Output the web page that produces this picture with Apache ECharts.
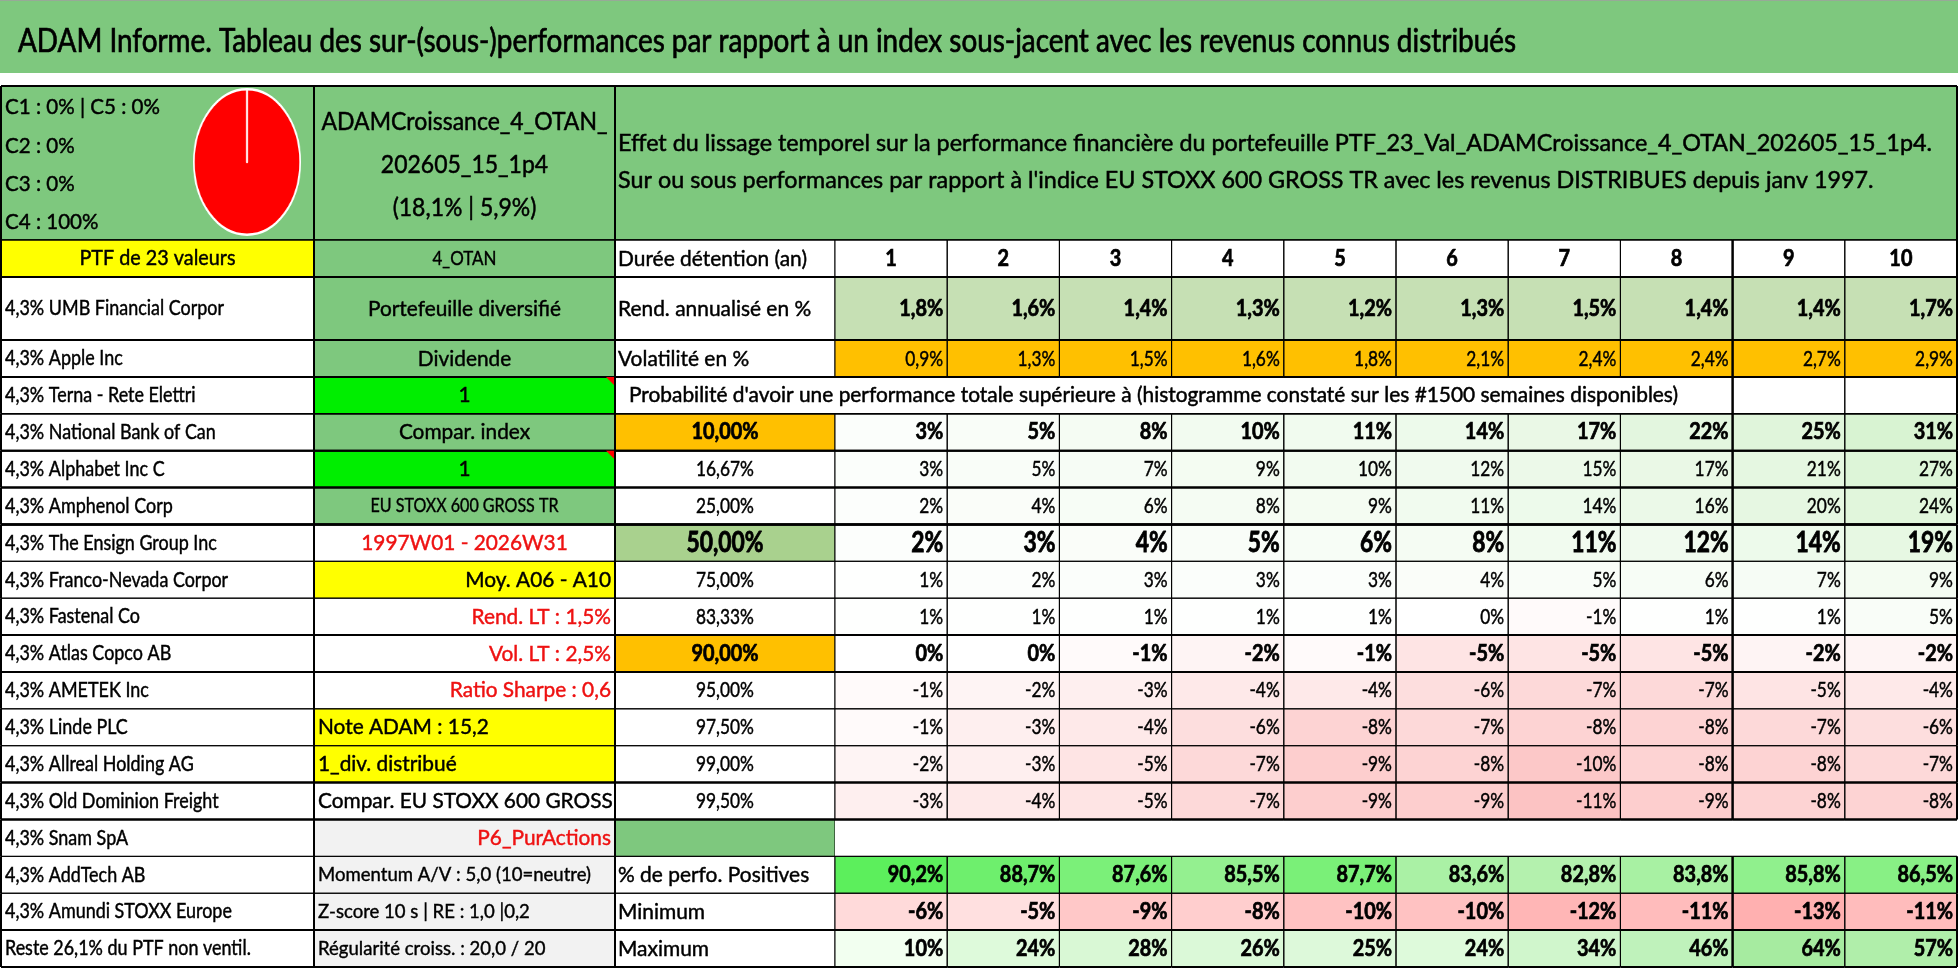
<!DOCTYPE html>
<html><head><meta charset="utf-8">
<script src="https://cdn.jsdelivr.net/npm/echarts/dist/echarts.min.js"></script>
<style>
html,body{margin:0;padding:0;background:#fff;overflow:hidden;}
#main{position:absolute;left:0;top:0;width:1958px;height:979px;}
#pie{position:absolute;left:172px;top:87px;width:150px;height:150px;transform:scaleX(0.73);transform-origin:50% 50%;}
</style>
</head><body>
<div id="main"></div><div id="pie"></div>
<script>
// ---------------- DATA ----------------
const title = 'ADAM Informe. Tableau des sur-(sous-)performances par rapport à un index sous-jacent avec les revenus connus distribués';
const headerLines = [
  'Effet du lissage temporel sur la performance financière du portefeuille PTF_23_Val_ADAMCroissance_4_OTAN_202605_15_1p4.',
  "Sur ou sous performances par rapport à l'indice EU STOXX 600 GROSS TR avec les revenus DISTRIBUES depuis janv 1997."
];
const portfolioLines = ['ADAMCroissance_4_OTAN_', '202605_15_1p4', '(18,1% | 5,9%)'];
const classNames = ['C1', 'C2', 'C3', 'C4', 'C5'];
const classShares = [0, 0, 0, 100, 0];
const holdingsHeader = 'PTF de 23 valeurs';
const holdings = [
  '4,3% UMB Financial Corpor', '4,3% Apple Inc', '4,3% Terna - Rete Elettri', '4,3% National Bank of Can',
  '4,3% Alphabet Inc C', '4,3% Amphenol Corp', '4,3% The Ensign Group Inc', '4,3% Franco-Nevada Corpor',
  '4,3% Fastenal Co', '4,3% Atlas Copco AB', '4,3% AMETEK Inc', '4,3% Linde PLC', '4,3% Allreal Holding AG',
  '4,3% Old Dominion Freight', '4,3% Snam SpA', '4,3% AddTech AB', '4,3% Amundi STOXX Europe',
  'Reste 26,1% du PTF non ventil.'
];
const profileHeader = '4_OTAN';
const profileInfo = [
  'Portefeuille diversifié', 'Dividende', '1', 'Compar. index', '1', 'EU STOXX 600 GROSS TR',
  '1997W01 - 2026W31', 'Moy. A06 - A10', 'Rend. LT : 1,5%', 'Vol. LT : 2,5%', 'Ratio Sharpe : 0,6',
  'Note ADAM : 15,2', '1_div. distribué', 'Compar. EU STOXX 600 GROSS TR', 'P6_PurActions',
  'Momentum A/V : 5,0 (10=neutre)', 'Z-score 10 s | RE : 1,0 |0,2', 'Régularité croiss. : 20,0 / 20'
];
const rowLabels = ['Durée détention (an)', 'Rend. annualisé en %', 'Volatilité en %'];
const probTitle = "Probabilité d'avoir une performance totale supérieure à (histogramme constaté sur les #1500 semaines disponibles)";
const percentiles = ['10,00%', '16,67%', '25,00%', '50,00%', '75,00%', '83,33%', '90,00%', '95,00%', '97,50%', '99,00%', '99,50%'];
const statLabels = ['% de perfo. Positives', 'Minimum', 'Maximum'];
const years = ['1', '2', '3', '4', '5', '6', '7', '8', '9', '10'];
const rendement = [1.8, 1.6, 1.4, 1.3, 1.2, 1.3, 1.5, 1.4, 1.4, 1.7];
const volatilite = [0.9, 1.3, 1.5, 1.6, 1.8, 2.1, 2.4, 2.4, 2.7, 2.9];
const probRows = [
  [3, 5, 8, 10, 11, 14, 17, 22, 25, 31],
  [3, 5, 7, 9, 10, 12, 15, 17, 21, 27],
  [2, 4, 6, 8, 9, 11, 14, 16, 20, 24],
  [2, 3, 4, 5, 6, 8, 11, 12, 14, 19],
  [1, 2, 3, 3, 3, 4, 5, 6, 7, 9],
  [1, 1, 1, 1, 1, 0, -1, 1, 1, 5],
  [0, 0, -1, -2, -1, -5, -5, -5, -2, -2],
  [-1, -2, -3, -4, -4, -6, -7, -7, -5, -4],
  [-1, -3, -4, -6, -8, -7, -8, -8, -7, -6],
  [-2, -3, -5, -7, -9, -8, -10, -8, -8, -7],
  [-3, -4, -5, -7, -9, -9, -11, -9, -8, -8]
];
const positives = [90.2, 88.7, 87.6, 85.5, 87.7, 83.6, 82.8, 83.8, 85.8, 86.5];
const minimum = [-6, -5, -9, -8, -10, -10, -12, -11, -13, -11];
const maximum = [10, 24, 28, 26, 25, 24, 34, 46, 64, 57];

// ---------------- STYLE / LAYOUT ----------------
const FONT = 'Lato, "Liberation Sans", sans-serif';
const COL = { green: '#7ec87e', bright: '#00ee00', yellow: '#ffff00', orange: '#ffc000', gray: '#f2f2f2',
  rend: '#c6e0b4', mid: '#a9d18e', red: '#ee1111', white: '#ffffff' };
const XE = [1, 314, 615, 835, 1957];
const YE = { titleTop: 0, titleBottom: 73, headTop: 86, r0: 240, r1: 277, r2: 340, bottom: 967 };
const hW = [1.5, 2, 2, 2, 1.5, 2, 2, 2.5, 1, 1, 2, 2, 1, 1, 2, 2, 1, 1, 2, 2];

// text classes: font size + horizontal compression calibrated to widths seen in the reference
const mctx = document.createElement('canvas').getContext('2d');
const fontOf = (size, bold) => (bold ? 'bold ' : '') + size + 'px ' + FONT;
function measure(text, font) { mctx.font = font; return mctx.measureText(text).width; }
const TC = {
  title: { size: 32, ref: title, w: 1498, stroke: 0.7 },
  head: { size: 24, ref: headerLines[0], w: 1314, stroke: 0.5 },
  prob: { size: 22, ref: probTitle, w: 1049, stroke: 0.5 },
  hold: { size: 21, ref: holdings[0], w: 219, stroke: 0.45 },
  ptf: { size: 21, ref: holdingsHeader, w: 156, stroke: 0.45 },
  cls: { size: 21, ref: 'C1 : 0% | C5 : 0%', w: 155, stroke: 0.45 },
  port: { size: 25, ref: portfolioLines[0], w: 286, stroke: 0.5 },
  otan: { size: 19, ref: profileHeader, w: 64, stroke: 0.4 },
  side: { size: 22, ref: profileInfo[0], w: 193, stroke: 0.45 },
  sideEU: { size: 19, ref: profileInfo[5], w: 188, stroke: 0.4 },
  sideS: { size: 19, ref: profileInfo[15], w: 273, stroke: 0.4 },
  label: { size: 22, ref: rowLabels[0], w: 189, stroke: 0.45 },
  num: { size: 22, bold: true, ref: '1,8%', w: 44, stroke: 0.7 },
  numBig: { size: 28, bold: true, ref: '50,00%', w: 77, stroke: 0.8 },
  numReg: { size: 22, ref: '16,67%', w: 58, stroke: 0.45 }
};
Object.keys(TC).forEach(k => {
  const t = TC[k]; t.font = fontOf(t.size, t.bold);
  t.sx = Math.min(1.2, t.w / measure(t.ref, t.font));
});

const profileStyle = [
  { bg: 'green', align: 'center' }, { bg: 'green', align: 'center' },
  { bg: 'bright', align: 'center', marker: true }, { bg: 'green', align: 'center' },
  { bg: 'bright', align: 'center', marker: true }, { bg: 'green', align: 'center', cls: 'sideEU' },
  { bg: 'white', align: 'center', color: 'red' }, { bg: 'yellow', align: 'right' },
  { bg: 'white', align: 'right', color: 'red' }, { bg: 'white', align: 'right', color: 'red' },
  { bg: 'white', align: 'right', color: 'red' }, { bg: 'yellow', align: 'left' },
  { bg: 'yellow', align: 'left' }, { bg: 'white', align: 'left' },
  { bg: 'gray', align: 'right', color: 'red' }, { bg: 'gray', align: 'left', cls: 'sideS' },
  { bg: 'gray', align: 'left', cls: 'sideS' }, { bg: 'gray', align: 'left', cls: 'sideS' }
];
const probRowStyle = [
  { cls: 'num', bg: 'orange' }, { cls: 'numReg' }, { cls: 'numReg' }, { cls: 'numBig', bg: 'mid' },
  { cls: 'numReg' }, { cls: 'numReg' }, { cls: 'num', bg: 'orange' }, { cls: 'numReg' }, { cls: 'numReg' },
  { cls: 'numReg' }, { cls: 'numReg' }
];

const lerp = (t, a, b) => echarts.color.lerp(Math.max(0, Math.min(1, t)), [a, b]);
const fmt1 = v => v.toFixed(1).replace('.', ',') + '%';
const fmt0 = v => Math.round(v) + '%';
const flatProb = probRows.flat();
const pLo = Math.min(...flatProb), pHi = Math.max(...flatProb);
const probColor = v => v < 0 ? lerp(v / pLo, '#ffffff', '#fcc3c3') : lerp(v / pHi, '#ffffff', '#d8f3d2');
const rangeColor = (arr, cLo, cHi) => v => lerp((v - Math.min(...arr)) / (Math.max(...arr) - Math.min(...arr)), cLo, cHi);
const posColor = rangeColor(positives, '#b4f1ae', '#5cef5c');
const minColor = rangeColor(minimum, '#ffb0b0', '#ffe0e0');
const maxColor = rangeColor(maximum, '#f2fff0', '#a6eba0');

function nLeftW(k) { return k === 0 ? 1 : (k === 8 || k === 10) ? 2 : 1; }

// ---------------- CELLS ----------------
function cellA(r) {
  const base = { col: 0, t: hW[r], b: hW[r + 1], l: 2, r: 2, cls: 'hold' };
  if (r === 0) return [Object.assign(base, { text: holdingsHeader, bg: COL.yellow, align: 'center', cls: 'ptf' })];
  return [Object.assign(base, { text: holdings[r - 1], bg: COL.white, align: 'left', pad: 4 })];
}
function cellB(r) {
  const base = { col: 0, t: hW[r], b: hW[r + 1], l: 2, r: 2, cls: 'side' };
  if (r === 0) return [Object.assign(base, { text: profileHeader, bg: COL.green, align: 'center', cls: 'otan' })];
  const s = profileStyle[r - 1];
  return [Object.assign(base, { text: profileInfo[r - 1], bg: COL[s.bg], align: s.align, cls: s.cls || 'side',
    color: s.color ? COL[s.color] : '#000', marker: s.marker, pad: 4 })];
}
function cellC(r) {
  const base = { col: 0, t: hW[r], b: hW[r + 1], l: 2, r: 1, cls: 'label', bg: COL.white, pad: 3 };
  if (r <= 2) return [Object.assign(base, { text: rowLabels[r], align: 'left' })];
  if (r === 3) return [Object.assign(base, { text: probTitle, align: 'left', r: 0, pad: 14, cls: 'prob' })];
  if (r <= 14) {
    const s = probRowStyle[r - 4];
    return [Object.assign(base, { text: percentiles[r - 4], align: 'center', cls: s.cls,
      bg: s.bg ? COL[s.bg] : COL.white })];
  }
  if (r === 15) return [Object.assign(base, { text: '', bg: COL.green })];
  return [Object.assign(base, { text: statLabels[r - 16], align: 'left' })];
}
function cellN(r) {
  const out = [];
  for (let k = 0; k < 10; k++) {
    const c = { col: k, t: hW[r], b: hW[r + 1], l: nLeftW(k), r: nLeftW(k + 1), cls: 'num', align: 'right', pad: 4, bg: COL.white };
    if (r === 0) Object.assign(c, { text: years[k], align: 'center' });
    else if (r === 1) Object.assign(c, { text: fmt1(rendement[k]), bg: COL.rend });
    else if (r === 2) Object.assign(c, { text: fmt1(volatilite[k]), cls: 'numReg', bg: COL.orange });
    else if (r === 3) { if (k < 8) Object.assign(c, { text: '', bg: null, l: 0, r: k === 7 ? 2 : 0 }); else c.text = ''; }
    else if (r <= 14) {
      const v = probRows[r - 4][k], s = probRowStyle[r - 4];
      Object.assign(c, { text: fmt0(v), cls: s.cls, bg: probColor(v) });
    }
    else if (r === 15) Object.assign(c, { text: '', l: 0, r: 0 });
    else if (r === 16) Object.assign(c, { text: fmt1(positives[k]), bg: posColor(positives[k]) });
    else if (r === 17) Object.assign(c, { text: fmt0(minimum[k]), bg: minColor(minimum[k]) });
    else Object.assign(c, { text: fmt0(maximum[k]), bg: maxColor(maximum[k]) });
    out.push(c);
  }
  return out;
}

// ---------------- BLOCKS (grids) ----------------
const blocks = [];
function addBlock(x0, x1, y0, y1, cols, rows, cells) { blocks.push({ x0, x1, y0, y1, cols, rows, cells }); }

addBlock(0, 1958, YE.titleTop, YE.titleBottom, 1, 1, [{ col: 0, row: 0, text: title, bg: COL.green, align: 'left',
  pad: 18, cls: 'title', dy: 5.5, t: 1.5, borderColor: '#a0a0a0' }]);

const classLabel = i => classNames[i] + ' : ' + classShares[i] + '%';
addBlock(XE[0], XE[1], YE.headTop, YE.r0, 1, 1, [{ col: 0, row: 0,
  text: [classLabel(0) + ' | ' + classLabel(4), classLabel(1), classLabel(2), classLabel(3)].join('\n'),
  bg: COL.green, align: 'left', pad: 4, cls: 'cls', lh: 38.3, dy: 2, t: 2, b: hW[0], l: 2, r: 2 }]);
addBlock(XE[1], XE[2], YE.headTop, YE.r0, 1, 1, [{ col: 0, row: 0, text: portfolioLines.join('\n'),
  bg: COL.green, align: 'center', cls: 'port', lh: 43, dy: 2, t: 2, b: hW[0], l: 2, r: 2 }]);
addBlock(XE[2], XE[4], YE.headTop, YE.r0, 1, 1, [{ col: 0, row: 0, text: headerLines.join('\n'),
  bg: COL.green, align: 'left', pad: 3, cls: 'head', lh: 37, dy: -1.5, t: 2, b: hW[0], l: 2, r: 2 }]);

const rowGroups = [[0, 1, YE.r0, YE.r1], [1, 2, YE.r1, YE.r2], [2, 19, YE.r2, YE.bottom]];
const colGroups = [[cellA, 1], [cellB, 1], [cellC, 1], [cellN, 10]];
colGroups.forEach(([fn, nCols], g) => {
  rowGroups.forEach(([ra, rb, y0, y1]) => {
    const cells = [];
    for (let r = ra; r < rb; r++) fn(r).forEach(c => { c.row = r - ra; cells.push(c); });
    addBlock(XE[g], XE[g + 1], y0, y1, nCols, rb - ra, cells);
  });
});

// ---------------- RENDER ----------------
function makeRender(cells) {
  return function (params, api) {
    const c = cells[params.dataIndex];
    const p = api.coord([api.value(0), api.value(1)]);
    const s = api.size([1, 1]);
    const x0 = p[0] - s[0] / 2, y0 = p[1] - s[1] / 2, x1 = x0 + s[0], y1 = y0 + s[1];
    const ch = [];
    if (c.bg) ch.push({ type: 'rect', shape: { x: x0, y: y0, width: s[0], height: s[1] }, style: { fill: c.bg }, z2: 0 });
    const bc = c.borderColor || '#000';
    const line = (xa, ya, xb, yb, lw) => { if (lw > 0) ch.push({ type: 'line', shape: { x1: xa, y1: ya, x2: xb, y2: yb }, style: { stroke: bc, lineWidth: lw }, z2: 5 }); };
    line(x0, y0, x1, y0, c.t); line(x0, y1, x1, y1, c.b); line(x0, y0, x0, y1, c.l); line(x1, y0, x1, y1, c.r);
    if (c.marker) ch.push({ type: 'polygon', shape: { points: [[x1 - 9, y0], [x1, y0], [x1, y0 + 9]] }, style: { fill: '#ff0000' }, z2: 6 });
    if (c.text) {
      const tc = TC[c.cls];
      const align = c.align || 'center';
      const pad = c.pad != null ? c.pad : 4;
      const tx = align === 'left' ? x0 + pad : align === 'right' ? x1 - pad : (x0 + x1) / 2;
      const ty = (y0 + y1) / 2 + (c.dy || 0);
      const fill = c.color || '#000';
      const st = { text: c.text, x: 0, y: 0, fill, font: tc.font,
        textAlign: align, textVerticalAlign: 'middle', align: align, verticalAlign: 'middle' };
      if (tc.stroke) { st.stroke = fill; st.lineWidth = tc.stroke; }
      if (c.lh) st.lineHeight = c.lh;
      ch.push({ type: 'text', x: tx, y: ty, scaleX: tc.sx, scaleY: 1, z2: 10, style: st });
    }
    return { type: 'group', children: ch };
  };
}

const grid = [], xAxis = [], yAxis = [], series = [];
blocks.forEach((b, i) => {
  grid.push({ left: b.x0, top: b.y0, width: b.x1 - b.x0, height: b.y1 - b.y0, containLabel: false, show: false });
  xAxis.push({ type: 'category', gridIndex: i, data: Array.from({ length: b.cols }, (_, k) => 'c' + k), show: false, boundaryGap: true });
  yAxis.push({ type: 'category', gridIndex: i, data: Array.from({ length: b.rows }, (_, k) => 'r' + k), show: false, inverse: true, boundaryGap: true });
  series.push({ type: 'custom', xAxisIndex: i, yAxisIndex: i, z: 2 + i, silent: true, clip: false,
    data: b.cells.map(c => [c.col, c.row]), renderItem: makeRender(b.cells) });
});

const chart = echarts.init(document.getElementById('main'), null, { renderer: 'canvas' });
chart.setOption({ animation: false, backgroundColor: '#ffffff', grid, xAxis, yAxis, series, tooltip: { show: false } });

// ---------------- PIE ----------------
const palette = ['#4472c4', '#ed7d31', '#a5a5a5', '#ff0000', '#5b9bd5'];
const pie = echarts.init(document.getElementById('pie'), null, { renderer: 'canvas' });
pie.setOption({ animation: false, series: [{ type: 'pie', radius: '97%', center: ['50%', '50%'], startAngle: 90,
  silent: true, label: { show: false }, labelLine: { show: false },
  itemStyle: { borderColor: '#ffffff', borderWidth: 2.5 },
  data: classNames.map((n, i) => ({ name: n, value: classShares[i], itemStyle: { color: palette[i] } })) }] });
</script>
</body></html>
